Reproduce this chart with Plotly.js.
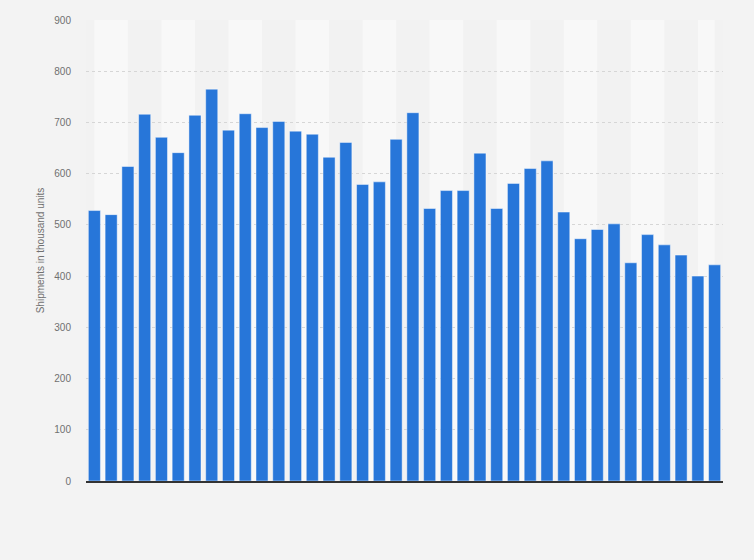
<!DOCTYPE html>
<html>
<head>
<meta charset="utf-8">
<script src="https://cdn.plot.ly/plotly-3.0.1.min.js"></script>
<style>
html,body{margin:0;padding:0;background:#f3f3f3;}
#chart{width:754px;height:560px;}
</style>
</head>
<body>
<div id="chart"></div>
<script>
const categories = [
  "Q1 '10","Q2 '10","Q3 '10","Q4 '10",
  "Q1 '11","Q2 '11","Q3 '11","Q4 '11",
  "Q1 '12","Q2 '12","Q3 '12","Q4 '12",
  "Q1 '13","Q2 '13","Q3 '13","Q4 '13",
  "Q1 '14","Q2 '14","Q3 '14","Q4 '14",
  "Q1 '15","Q2 '15","Q3 '15","Q4 '15",
  "Q1 '16","Q2 '16","Q3 '16","Q4 '16",
  "Q1 '17","Q2 '17","Q3 '17","Q4 '17",
  "Q1 '18","Q2 '18","Q3 '18","Q4 '18",
  "Q1 '19","Q2 '19"
];
const shipments = [
  528, 520, 614, 716, 671, 641, 714, 765,
  685, 717, 690, 702, 683, 677, 632, 661,
  579, 584, 667, 719, 532, 567, 567, 640,
  532, 581, 610, 625, 525, 473, 491, 502,
  426, 481, 461, 441, 400, 422
];
const yTicks = [0, 100, 200, 300, 400, 500, 600, 700, 800, 900];

// alternating background bands, two categories wide
const shapes = [];
for (let i = 0; i < categories.length - 1; i += 4) {
  shapes.push({
    type: 'rect', xref: 'x', yref: 'paper', layer: 'below',
    x0: i, x1: Math.min(i + 2, categories.length - 1),
    y0: 0, y1: 1, fillcolor: '#f8f8f8', line: {width: 0}
  });
}

const trace = {
  type: 'bar',
  x: categories,
  y: shipments,
  marker: {color: '#2776d9', line: {color: 'rgba(255,255,255,0.45)', width: 1}},
  hoverinfo: 'x+y'
};

const layout = {
  width: 754, height: 560,
  margin: {l: 86, r: 31, t: 20, b: 79},
  paper_bgcolor: '#f3f3f3',
  plot_bgcolor: '#f2f2f2',
  bargap: 0.28,
  showlegend: false,
  shapes: shapes,
  font: {family: 'Arial, "Liberation Sans", sans-serif', color: '#707070', size: 10},
  xaxis: {
    showticklabels: false, showgrid: false, zeroline: false,
    showline: true, linecolor: '#333', linewidth: 2, ticks: ''
  },
  yaxis: {
    range: [0, 900], tickvals: yTicks, ticktext: yTicks.map(String),
    showgrid: true, gridcolor: '#d6d6d6', griddash: 'dot', gridwidth: 1,
    zeroline: false, ticks: '', ticklabelstandoff: 14,
    tickfont: {size: 10, color: '#707070'},
    title: {text: 'Shipments in thousand units', font: {size: 10, color: '#707070'}, standoff: 7}
  }
};

Plotly.newPlot('chart', [trace], layout, {displayModeBar: false, staticPlot: true});
</script>
</body>
</html>
